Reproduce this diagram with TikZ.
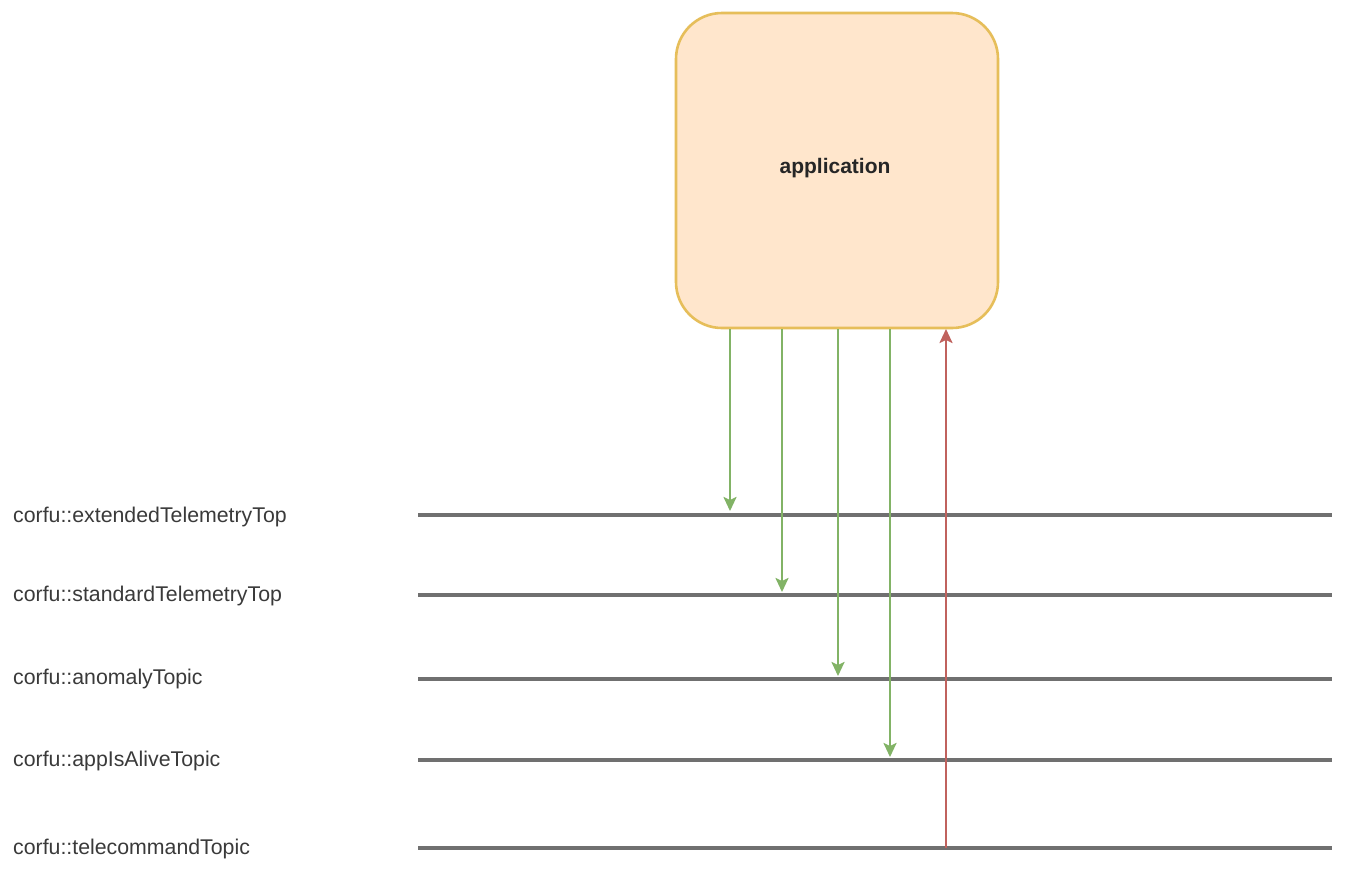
\documentclass[tikz,border=0pt]{standalone}
\usepackage{fontspec}
\setmainfont{Liberation Sans}
\usetikzlibrary{arrows.meta}
\definecolor{appfill}{HTML}{FFE6CC}
\definecolor{appdraw}{HTML}{E6BE5A}
\definecolor{pubgreen}{HTML}{82B366}
\definecolor{subred}{HTML}{C0625E}
\definecolor{topicgray}{HTML}{707070}
\definecolor{labelgray}{HTML}{3A3A3A}
\begin{document}
\begin{tikzpicture}[x=1pt,y=-1pt,
  appbox/.style={draw=appdraw,fill=appfill,line width=2.6pt,rounded corners=46pt,
    minimum width=322pt,minimum height=315pt,inner sep=0pt},
  topicline/.style={draw=topicgray,line width=3.2pt},
  topiclabel/.style={anchor=west,inner sep=0pt,text=labelgray,font=\fontsize{21.3}{25}\selectfont},
  pubarrow/.style={draw=pubgreen,line width=2.4pt,-{Stealth[width=13pt,length=14pt,inset=3pt]}},
  subarrow/.style={draw=subred,line width=2.4pt,-{Stealth[width=13pt,length=14pt,inset=3pt]}}]
\fill[white] (0,0) rectangle (1345,876);
\useasboundingbox (0,0) rectangle (1345,876);

\node[appbox] (app) at (837,170.5) {};
\node[font=\fontsize{21}{25}\selectfont\bfseries,text=black!85,inner sep=0pt] (applabel) at (835,168) {application};

% topic lines
\coordinate (l1a) at (418,515); \coordinate (l1b) at (1332,515);
\coordinate (l2a) at (418,595); \coordinate (l2b) at (1332,595);
\coordinate (l3a) at (418,679); \coordinate (l3b) at (1332,679);
\coordinate (l4a) at (418,760); \coordinate (l4b) at (1332,760);
\coordinate (l5a) at (418,848); \coordinate (l5b) at (1332,848);
\foreach \i in {1,...,5} { \draw[topicline] (l\i a) -- (l\i b); }

% labels
\node[topiclabel] (n1) at (13,517) {corfu::extendedTelemetryTop};
\node[topiclabel] (n2) at (13,596) {corfu::standardTelemetryTop};
\node[topiclabel] (n3) at (13,679) {corfu::anomalyTopic};
\node[topiclabel] (n4) at (13,761) {corfu::appIsAliveTopic};
\node[topiclabel] (n5) at (13,849) {corfu::telecommandTopic};

% arrow ends
\coordinate (e1) at (730,511);
\coordinate (e2) at (782,592);
\coordinate (e3) at (838,676);
\coordinate (e4) at (890,757);
\coordinate (r0) at (946,848);
\coordinate (r1) at (946,329);

\draw[pubarrow] (app.south -| e1) -- (e1);
\draw[pubarrow] (app.south -| e2) -- (e2);
\draw[pubarrow] (app.south -| e3) -- (e3);
\draw[pubarrow] (app.south -| e4) -- (e4);
\draw[subarrow] (r0) -- (r1);
\end{tikzpicture}
\end{document}
